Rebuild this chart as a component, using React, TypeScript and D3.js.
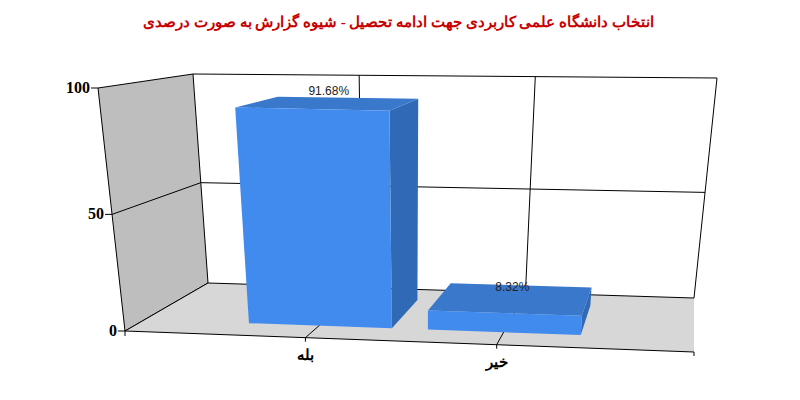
import React from "react";
import * as d3 from "d3";

const title = "انتخاب دانشگاه علمی کاربردی جهت ادامه تحصیل - شیوه گزارش به صورت درصدی";
const categories = ["بله", "خیر"];
const percentages = [91.68, 8.32];
const valueTicks = [0, 50, 100];

type Pt = [number, number];
// Projected corners of the chart's box (Front/Back, Top/Bottom, Left/Right)
const FTL: Pt = [98, 88], FTR: Pt = [718, 103], FBL: Pt = [125, 331], FBR: Pt = [694, 352];
const BTL: Pt = [193, 74], BTR: Pt = [717, 78], BBL: Pt = [208, 283], BBR: Pt = [694, 298];

const mix = (a: Pt, b: Pt, t: number): Pt => [a[0] + (b[0] - a[0]) * t, a[1] + (b[1] - a[1]) * t];
// Perspective foreshortening along the category axis
const uWarp = d3.scalePow().exponent(1.1).domain([0, 1]).range([0, 1]);
const project = (uRaw: number, v: number, w: number): Pt => {
  const u = uWarp(uRaw);
  const bottom = mix(mix(FBL, FBR, u), mix(BBL, BBR, u), w);
  const top = mix(mix(FTL, FTR, u), mix(BTL, BTR, u), w);
  return mix(bottom, top, v);
};

const xBand = d3.scaleBand<string>().domain(categories).range([0.1885, 0.8425]).paddingInner(0.195).paddingOuter(0.0975);
const yScale = d3.scaleLinear().domain([0, 50, 100]).range([0, 0.48, 1]);
const barDepth: [number, number] = [0.24, 0.8];

const poly = (pts: Pt[]) => (d3.line()(pts) ?? "") + "Z";
const seg = (a: Pt, b: Pt) => d3.line()([a, b]) ?? "";

const COLORS = { wall: "#BEBEBE", floor: "#D7D7D7", front: "#418AEE", top: "#3A78CB", side: "#3069B5", axis: "#000", title: "#C80000" };
const SERIF = "'Liberation Serif', 'DejaVu Serif', serif";

export default function App() {
  const center = (c: string) => (xBand(c) ?? 0) + xBand.bandwidth() / 2;
  const v50 = yScale(50);
  return (
    <svg width={800} height={400} style={{ position: "absolute", left: 0, top: 0, display: "block", background: "#fff" }}>
      <text x={398.5} y={27} textAnchor="middle" direction="rtl" fontFamily={SERIF} fontWeight="bold" fontSize={15} fill={COLORS.title}
        textLength={511} lengthAdjust="spacingAndGlyphs">{title}</text>

      {/* walls */}
      <path d={poly([project(0, 0, 0), project(0, 1, 0), project(0, 1, 1), project(0, 0, 1)])} fill={COLORS.wall} stroke="#000" strokeWidth={1} />
      <path d={poly([project(0, 0, 0), project(1, 0, 0), project(1, 0, 1), project(0, 0, 1)])} fill={COLORS.floor} />

      {/* back wall and grid */}
      <g fill="none" stroke={COLORS.axis} strokeWidth={1}>
        <path d={seg(project(0, 1, 1), project(1, 1, 1))} />
        <path d={seg(project(1, 1, 1), project(1, 0, 1))} />
        <path d={seg(project(0, 0, 1), project(1, 0, 1))} />
        <path d={seg(project(0, 0, 0), project(1, 0, 0))} />
        <path d={seg(project(0, 0, 0), project(0, 0, 1))} />
        <path d={seg(project(0, v50, 0), project(0, v50, 1))} />
        <path d={seg(project(0, v50, 1), project(1, v50, 1))} />
        {categories.map((c) => (
          <g key={c}>
            <path d={seg(project(center(c), 0, 1), project(center(c), 1, 1))} />
            <path d={seg(project(center(c), 0, 0), project(center(c), 0, 1))} />
            <path d={seg(project(center(c), 0, 0), [project(center(c), 0, 0)[0], project(center(c), 0, 0)[1] + 4])} />
          </g>
        ))}
        {valueTicks.map((t) => {
          const p = project(0, yScale(t), 0);
          return <path key={t} d={seg([p[0] - 7, p[1]], p)} />;
        })}
        <path d={seg(project(0, 0, 0), [project(0, 0, 0)[0], project(0, 0, 0)[1] + 5])} />
        <path d={seg(project(1, 0, 0), [project(1, 0, 0)[0], project(1, 0, 0)[1] + 4])} />
      </g>

      {/* bars */}
      {categories.map((c, i) => {
        const u0 = xBand(c) ?? 0;
        const u1 = u0 + xBand.bandwidth();
        const [w0, w1] = barDepth;
        const v = yScale(percentages[i]);
        const labelAt = project(center(c), v, (w0 + w1) / 2);
        return (
          <g key={c}>
            <path d={poly([project(u1, 0, w0), project(u1, v, w0), project(u1, v, w1), project(u1, 0, w1)])} fill={COLORS.side} />
            <path d={poly([project(u0, v, w0), project(u1, v, w0), project(u1, v, w1), project(u0, v, w1)])} fill={COLORS.top} />
            <path d={poly([project(u0, 0, w0), project(u1, 0, w0), project(u1, v, w0), project(u0, v, w0)])} fill={COLORS.front} />
            <text x={labelAt[0]} y={labelAt[1] - 8} textAnchor="middle" fontFamily="'Liberation Sans', Arial, sans-serif" fontSize={12} fill="#222">
              {percentages[i]}%
            </text>
          </g>
        );
      })}

      {/* axis labels */}
      {valueTicks.map((t) => {
        const p = project(0, yScale(t), 0);
        return (
          <text key={t} x={p[0] - 8} y={p[1] + 5} textAnchor="end" fontFamily={SERIF} fontWeight="bold" fontSize={16} fill="#000">{t}</text>
        );
      })}
      {categories.map((c) => {
        const p = project(center(c), 0, 0);
        return (
          <text key={c} x={p[0]} y={p[1] + 22} textAnchor="middle" direction="rtl" fontFamily={SERIF} fontWeight="bold" fontSize={15} fill="#000">{c}</text>
        );
      })}
    </svg>
  );
}
